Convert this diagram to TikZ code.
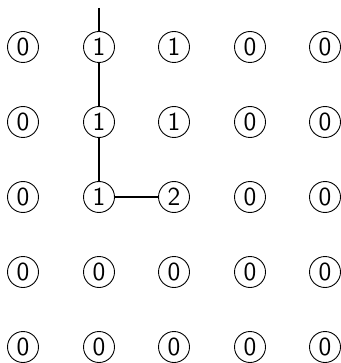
\documentclass[tikz,border=0pt]{standalone}
\begin{document}
\begin{tikzpicture}[x=0.5pt,y=-0.5pt,
  cell/.style={circle,draw,line width=0.45pt,inner sep=0pt,minimum size=15.5pt,
    font=\sffamily\fontsize{13}{15}\selectfont},
  link/.style={line width=0.8pt}]
\useasboundingbox (0,0) rectangle (341,363);
\def\cols{{23,99,174,250,325}}
\def\rows{{47,122,197,272,347}}
\foreach \r/\vals in {1/{0,1,1,0,0},2/{0,1,1,0,0},3/{0,1,2,0,0},4/{0,0,0,0,0},5/{0,0,0,0,0}}{
  \foreach \v [count=\c] in \vals {
    \pgfmathsetmacro{\xx}{\cols[\c-1]}
    \pgfmathsetmacro{\yy}{\rows[\r-1]}
    \node[cell] (n\r\c) at (\xx,\yy) {\v};
  }
}
\coordinate (top) at (99,8);
\draw[link] (top) -- (n12);
\draw[link] (n12) -- (n22);
\draw[link] (n22) -- (n32);
\draw[link] (n32) -- (n33);
\end{tikzpicture}
\end{document}
